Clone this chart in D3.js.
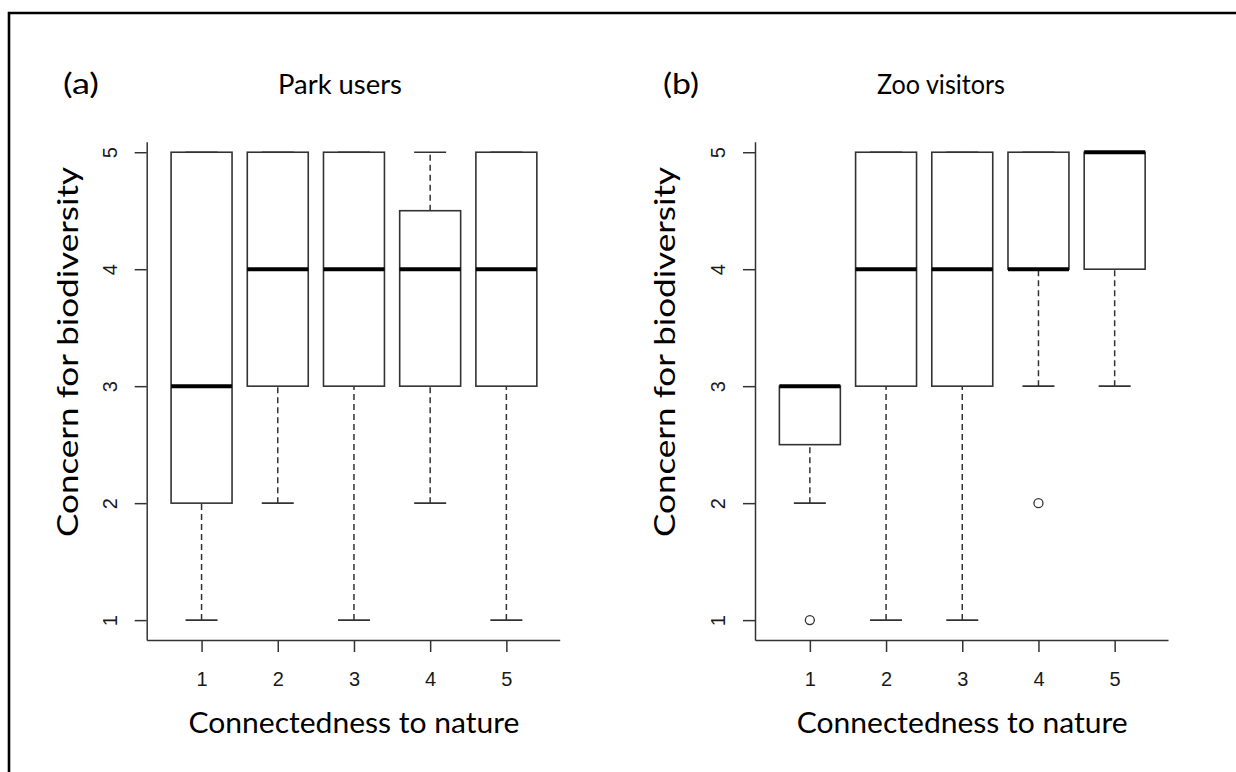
<!DOCTYPE html>
<html>
<head>
<meta charset="utf-8">
<script src="https://cdn.jsdelivr.net/npm/d3@7"></script>
<style>
  body { margin: 0; background: #fff; }
  .title { font-family: Lato, "Open Sans", sans-serif; fill: #000; }
  .tick line, .domain { stroke: #333; stroke-width: 1.5px; }
</style>
</head>
<body>
<svg width="1236" height="772"></svg>
<script>
/********** Data **********/
var categories = [1, 2, 3, 4, 5];
var yTicks = [1, 2, 3, 4, 5];

// Park users
var parkLower  = [1, 2, 1, 2, 1];
var parkQ1     = [2, 3, 3, 3, 3];
var parkMedian = [3, 4, 4, 4, 4];
var parkQ3     = [5, 5, 5, 4.5, 5];
var parkUpper  = [5, 5, 5, 5, 5];
var parkOutliers = [];

// Zoo visitors
var zooLower  = [2, 1, 1, 3, 3];
var zooQ1     = [2.5, 3, 3, 4, 4];
var zooMedian = [3, 4, 4, 4, 5];
var zooQ3     = [3, 5, 5, 5, 5];
var zooUpper  = [3, 5, 5, 5, 5];
var zooOutliers = [[1, 1], [4, 2]];   // [category, value]

var svg = d3.select("svg");

// frame (top + left only)
svg.append("path")
    .attr("d", "M9,772 L9,13 L1236,13")
    .attr("fill", "none")
    .attr("stroke", "#000")
    .attr("stroke-width", 2.6);

function boxes(lower, q1, med, q3, upper) {
    return categories.map(function(c, i) {
        return {c: c, lo: lower[i], q1: q1[i], med: med[i], q3: q3[i], hi: upper[i]};
    });
}

var panels = [
    {left: 146.7, label: "(a)", labelX: 63, title: "Park users", titleX: 278, titleLen: 124,
     yTitleX: 78, data: boxes(parkLower, parkQ1, parkMedian, parkQ3, parkUpper), outliers: parkOutliers},
    {left: 755, label: "(b)", labelX: 663, title: "Zoo visitors", titleX: 877, titleLen: 128,
     yTitleX: 675, data: boxes(zooLower, zooQ1, zooMedian, zooQ3, zooUpper), outliers: zooOutliers}
];

var y = d3.scaleLinear()
            .domain([0.83, 5.09])
            .range([640, 141.7]);

panels.forEach(function(p) {
    var x = d3.scaleLinear()
                .domain([0.28, 5.7])
                .range([p.left, p.left + 5.42 * 76.2]);
    var half = 0.4, cap = 0.21;

    var g = svg.append("g");

    // y axis
    var ya = g.append("g")
        .attr("transform", "translate(" + p.left + ",0)")
        .call(d3.axisLeft(y).tickValues(yTicks).tickFormat(d3.format("d")).tickSize(12).tickSizeOuter(0));
    ya.selectAll(".tick text")
        .attr("x", null).attr("dy", null)
        .attr("text-anchor", "middle")
        .attr("transform", "translate(-30,0) rotate(-90)");

    // x axis
    var xa = g.append("g")
        .attr("transform", "translate(0,640)")
        .call(d3.axisBottom(x).tickValues(categories).tickFormat(d3.format("d"))
              .tickSize(12).tickSizeOuter(0).tickPadding(20));

    [ya, xa].forEach(function(a) {
        a.attr("font-size", null).attr("font-family", null);
        a.selectAll(".tick text")
            .style("font-family", "'Liberation Sans', Arial, sans-serif")
            .style("font-size", "20px")
            .style("fill", "#1a1a1a");
    });

    // whiskers
    var w = g.selectAll(".whisk").data(p.data).enter();
    w.append("line")
        .attr("x1", function(d) { return x(d.c); })
        .attr("x2", function(d) { return x(d.c); })
        .attr("y1", function(d) { return y(d.lo); })
        .attr("y2", function(d) { return y(d.q1); })
        .attr("stroke", "#333").attr("stroke-width", 1.5).attr("stroke-dasharray", "6,4");
    w.append("line")
        .attr("x1", function(d) { return x(d.c); })
        .attr("x2", function(d) { return x(d.c); })
        .attr("y1", function(d) { return y(d.q3); })
        .attr("y2", function(d) { return y(d.hi); })
        .attr("stroke", "#333").attr("stroke-width", 1.5).attr("stroke-dasharray", "6,4");
    w.append("line")
        .attr("x1", function(d) { return x(d.c - cap); })
        .attr("x2", function(d) { return x(d.c + cap); })
        .attr("y1", function(d) { return y(d.lo); })
        .attr("y2", function(d) { return y(d.lo); })
        .attr("stroke", "#333").attr("stroke-width", 1.6);
    w.append("line")
        .attr("x1", function(d) { return x(d.c - cap); })
        .attr("x2", function(d) { return x(d.c + cap); })
        .attr("y1", function(d) { return y(d.hi); })
        .attr("y2", function(d) { return y(d.hi); })
        .attr("stroke", "#333").attr("stroke-width", 1.6);

    // boxes
    g.selectAll(".box").data(p.data).enter().append("rect")
        .attr("x", function(d) { return x(d.c - half); })
        .attr("width", function(d) { return x(d.c + half) - x(d.c - half); })
        .attr("y", function(d) { return y(d.q3); })
        .attr("height", function(d) { return y(d.q1) - y(d.q3); })
        .attr("fill", "#fff")
        .attr("stroke", "#333")
        .attr("stroke-width", 1.6);

    // medians
    g.selectAll(".med").data(p.data).enter().append("line")
        .attr("x1", function(d) { return x(d.c - half); })
        .attr("x2", function(d) { return x(d.c + half); })
        .attr("y1", function(d) { return y(d.med); })
        .attr("y2", function(d) { return y(d.med); })
        .attr("stroke", "#000")
        .attr("stroke-width", 4);

    // outliers
    g.selectAll(".out").data(p.outliers).enter().append("circle")
        .attr("cx", function(d) { return x(d[0]); })
        .attr("cy", function(d) { return y(d[1]); })
        .attr("r", 4.5)
        .attr("fill", "none")
        .attr("stroke", "#333")
        .attr("stroke-width", 1.3);

    // texts
    g.append("text").attr("class", "title")
        .attr("x", p.labelX).attr("y", 94)
        .style("font-size", "28px")
        .attr("textLength", 36).attr("lengthAdjust", "spacingAndGlyphs")
        .text(p.label);
    g.append("text").attr("class", "title")
        .attr("x", p.titleX).attr("y", 94)
        .style("font-size", "26px")
        .attr("textLength", p.titleLen).attr("lengthAdjust", "spacingAndGlyphs")
        .text(p.title);
    g.append("text").attr("class", "title")
        .attr("x", x(3)).attr("y", 733)
        .attr("text-anchor", "middle")
        .style("font-size", "28px")
        .attr("textLength", 331).attr("lengthAdjust", "spacingAndGlyphs")
        .text("Connectedness to nature");
    g.append("text").attr("class", "title")
        .attr("transform", "translate(" + p.yTitleX + ",352) rotate(-90)")
        .attr("text-anchor", "middle")
        .style("font-size", "28px")
        .attr("textLength", 370).attr("lengthAdjust", "spacingAndGlyphs")
        .text("Concern for biodiversity");
});
</script>
</body>
</html>
